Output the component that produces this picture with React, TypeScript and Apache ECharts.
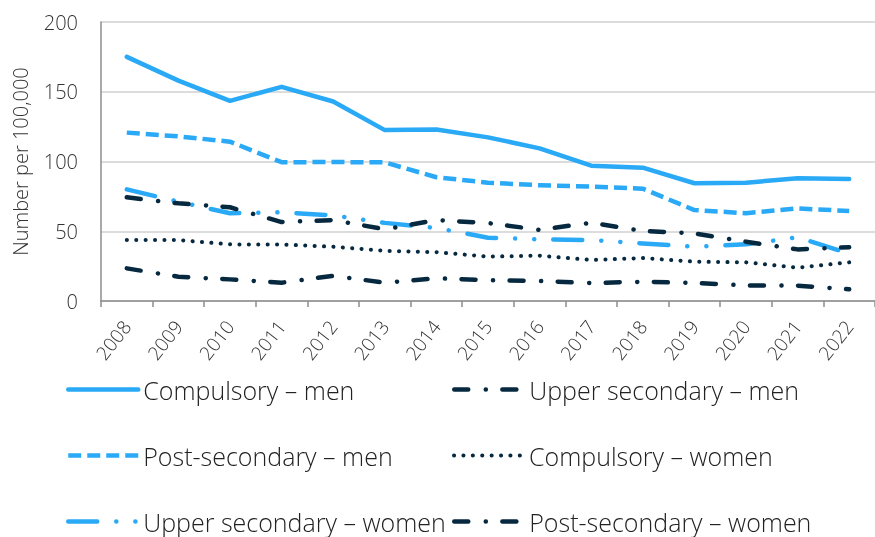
import React, { useEffect, useRef } from "react";
import * as echarts from "echarts";

const years = ["2008","2009","2010","2011","2012","2013","2014","2015","2016","2017","2018","2019","2020","2021","2022"];
const yTicks = [0, 50, 100, 150, 200];

const compulsoryMen = [175, 158, 143.5, 153.5, 143, 122.5, 123, 117.3, 109.4, 97, 95.6, 84.4, 84.8, 88, 87.5];
const postSecondaryMen = [120.7, 118, 114.2, 99.5, 99.6, 99.4, 88.7, 84.8, 83, 82, 80.5, 65.2, 62.9, 66.4, 64.5];
const upperSecondaryWomen = [80, 71.2, 62.9, 63.6, 61.4, 56, 52.3, 45.4, 44.2, 43.7, 41.3, 38.9, 40.6, 45.7, 34];
const upperSecondaryMen = [74.3, 70, 67.2, 56.6, 58, 51.4, 58, 55.9, 51, 56.1, 50.2, 48.5, 42.5, 37, 38.5];
const compulsoryWomen = [43.7, 43.7, 40.6, 40.5, 38.9, 36, 35, 31.8, 32.5, 29.4, 30.8, 28.2, 27.7, 23.9, 27.7];
const postSecondaryWomen = [23.4, 17.4, 15.5, 13.1, 18.1, 13.1, 16.3, 15, 14.3, 12.9, 13.8, 12.9, 11.2, 11, 8.4];

const names = {
  cm: "Compulsory – men",
  usm: "Upper secondary – men",
  psm: "Post-secondary – men",
  cw: "Compulsory – women",
  usw: "Upper secondary – women",
  psw: "Post-secondary – women",
};

const LIGHT = "#29a9f6";
const DARK = "#062940";
const FONT = "'Open Sans', sans-serif";
const WEIGHT = 300;

const DASHED = [13, 6];
const LONG_DASH_DOT_DOT = [29, 19, 0.1, 19, 0.1, 19];
const DASH_DOT = [14, 17.5, 0.1, 16.5];
const DOTTED = [0.1, 9.3];

export default function App() {
  const ref = useRef<HTMLDivElement>(null);
  useEffect(() => {
    document.body.style.margin = "0";
    const chart = echarts.init(ref.current!, undefined, { renderer: "svg" });
    const mk = (name: string, data: number[], color: string, width: number, dash: any, cap: any) => ({
      type: "line",
      name,
      data,
      symbol: "none",
      smooth: false,
      lineStyle: { color, width, type: dash, cap, join: "round" },
      itemStyle: { color },
    });
    const legendText = { fontSize: 25, color: "#222", fontFamily: FONT, fontWeight: WEIGHT, padding: [6, 0, 0, 0] };
    const leg = (name: string, left: number, top: number, color: string, width: number, dash: any, cap: any) => ({
      data: [name],
      left,
      top,
      padding: 0,
      itemWidth: 70,
      itemHeight: 14,
      textStyle: legendText,
      selectedMode: false,
      itemStyle: { opacity: 0 },
      lineStyle: { color, width, type: dash, cap, opacity: 1 },
    });
    chart.setOption({
      animation: false,
      textStyle: { fontFamily: FONT },
      grid: { left: 101, top: 22, width: 788, height: 279, containLabel: false },
      xAxis: {
        type: "category",
        data: years,
        boundaryGap: true,
        axisLine: { lineStyle: { color: "#8c8c8c", width: 1.5 } },
        axisTick: { show: true, length: 6, lineStyle: { color: "#8c8c8c", width: 1.5 } },
        axisLabel: { rotate: 52, fontSize: 19, color: "#333", margin: 22, fontFamily: FONT, fontWeight: WEIGHT, interval: 0 },
      },
      yAxis: {
        type: "value",
        min: yTicks[0],
        max: yTicks[yTicks.length - 1],
        interval: 50,
        name: "Number per 100,000",
        nameLocation: "middle",
        nameGap: 71,
        nameTextStyle: { fontSize: 20, color: "#333", fontFamily: FONT, fontWeight: WEIGHT },
        axisLine: { show: true, lineStyle: { color: "#8c8c8c", width: 1.5 } },
        axisTick: { show: false },
        axisLabel: { fontSize: 20, color: "#333", margin: 23, fontFamily: FONT, fontWeight: WEIGHT },
        splitLine: { lineStyle: { color: "#d0d0d0", width: 1.5 } },
      },
      legend: [
        leg(names.cm, 66, 377, LIGHT, 4.5, "solid", "round"),
        leg(names.psm, 66, 443, LIGHT, 4.5, DASHED, "butt"),
        leg(names.usw, 66, 509, LIGHT, 4.5, LONG_DASH_DOT_DOT, "round"),
        leg(names.usm, 452, 377, DARK, 4.5, DASH_DOT, "round"),
        leg(names.cw, 452, 443, DARK, 4, DOTTED, "round"),
        leg(names.psw, 452, 509, DARK, 4.5, DASH_DOT, "round"),
      ],
      series: [
        mk(names.cm, compulsoryMen, LIGHT, 4.5, "solid", "round"),
        mk(names.psm, postSecondaryMen, LIGHT, 4.5, DASHED, "butt"),
        mk(names.usw, upperSecondaryWomen, LIGHT, 4.5, LONG_DASH_DOT_DOT, "round"),
        mk(names.usm, upperSecondaryMen, DARK, 4.5, DASH_DOT, "round"),
        mk(names.cw, compulsoryWomen, DARK, 4, DOTTED, "round"),
        mk(names.psw, postSecondaryWomen, DARK, 4.5, DASH_DOT, "round"),
      ],
    });
    return () => chart.dispose();
  }, []);
  return <div ref={ref} style={{ position: "fixed", left: 0, top: 0, width: 875, height: 537 }} />;
}
